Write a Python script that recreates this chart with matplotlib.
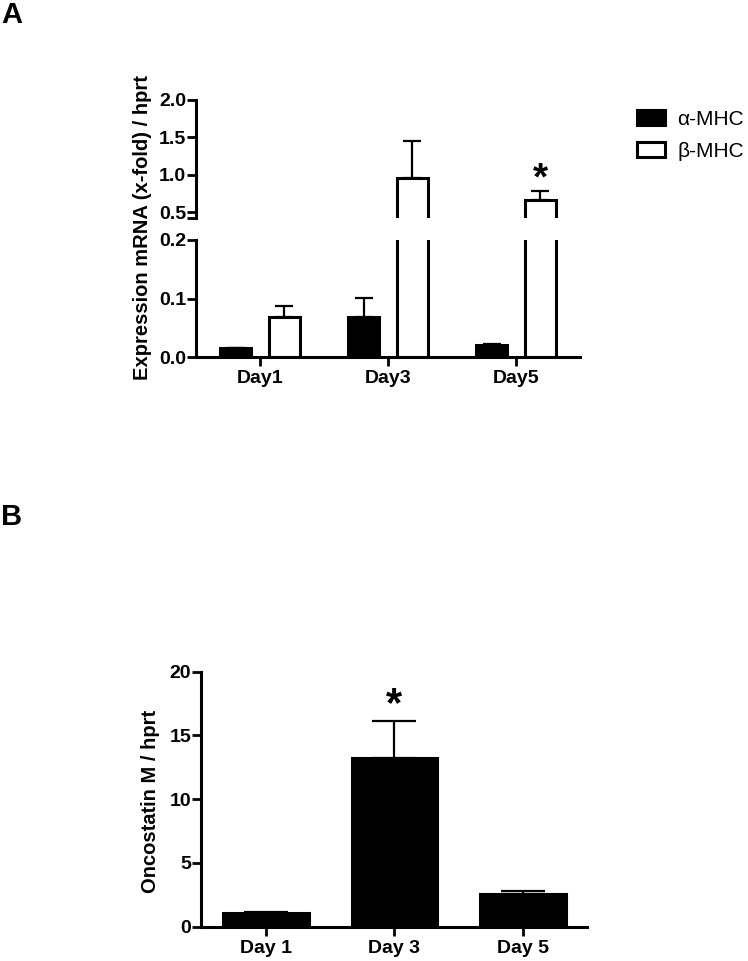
import matplotlib
matplotlib.use("Agg")
import matplotlib.pyplot as plt
import numpy as np
from matplotlib.patches import Patch

plt.rcParams['font.family'] = ['Liberation Sans', 'DejaVu Sans']

# ---- Panel A data ----
days_a = ["Day1", "Day3", "Day5"]
alpha_mhc = [0.015, 0.068, 0.020]
alpha_err = [0.001, 0.033, 0.003]
beta_mhc = [0.068, 0.95, 0.66]
beta_err = [0.019, 0.505, 0.12]
legend_labels = ["α-MHC", "β-MHC"]

# ---- Panel B data ----
days_b = ["Day 1", "Day 3", "Day 5"]
osm = [1.05, 13.25, 2.54]
osm_err = [0.08, 2.9, 0.26]

W, H = 748, 961
fig = plt.figure(figsize=(W / 100, H / 100), dpi=100)

LW = 2.2
TICKFS = 14
LABELFS = 14.5


def style_axes(ax, bottom=True):
    for s in ['top', 'right']:
        ax.spines[s].set_visible(False)
    ax.spines['left'].set_linewidth(LW)
    ax.spines['bottom'].set_linewidth(LW)
    if not bottom:
        ax.spines['bottom'].set_visible(False)
    ax.tick_params(axis='y', length=6.5, width=2, pad=0.5, labelsize=TICKFS)
    ax.tick_params(axis='x', length=6.5, width=2, pad=3, labelsize=TICKFS)
    for lab in ax.get_yticklabels() + ax.get_xticklabels():
        lab.set_fontweight('bold')


def fx(px):
    return px / W


def fy(py):
    return 1 - py / H


# ---- Panel A: broken axis ----
left, right = fx(196), fx(580)
ax_lo = fig.add_axes([left, fy(357), right - left, fy(240) - fy(357)])
ax_hi = fig.add_axes([left, fy(218), right - left, fy(100) - fy(218)])

x = np.arange(len(days_a))
bw = 0.245
off = 0.19
for ax in (ax_lo, ax_hi):
    ax.bar(x - off, alpha_mhc, width=bw, color='black', edgecolor='black', linewidth=LW, zorder=2)
    ax.bar(x + off, beta_mhc, width=bw, color='white', edgecolor='black', linewidth=LW, zorder=2)
    ax.errorbar(x - off, alpha_mhc, yerr=[np.zeros(3), alpha_err], fmt='none', ecolor='black',
                elinewidth=1.6, capsize=6.2, capthick=1.6, zorder=3)
    ax.errorbar(x + off, beta_mhc, yerr=[np.zeros(3), beta_err], fmt='none', ecolor='black',
                elinewidth=1.6, capsize=6.2, capthick=1.6, zorder=3)
    ax.set_xlim(-0.5, 2.5)

ax_lo.set_ylim(0, 0.2)
ax_lo.set_yticks([0.0, 0.1, 0.2])
ax_lo.set_yticklabels(["0.0", "0.1", "0.2"])
ax_lo.set_xticks(x)
ax_lo.set_xticklabels(days_a)
style_axes(ax_lo)

ax_hi.set_ylim(0.42, 2.0)
ax_hi.set_yticks([0.5, 1.0, 1.5, 2.0])
ax_hi.set_yticklabels(["0.5", "1.0", "1.5", "2.0"])
ax_hi.set_yticks([0.42], minor=True)
ax_hi.tick_params(axis='y', which='minor', length=6.5, width=2)
ax_hi.set_xticks([])
style_axes(ax_hi, bottom=False)

# significance star panel A
ax_hi.text(2 + off, 0.80, "*", ha='center', va='baseline', fontsize=28, fontweight='bold')

fig.text(fx(143), fy(228), "Expression mRNA (x-fold) / hprt", rotation=90, ha='center', va='center',
         fontsize=LABELFS, fontweight='bold')

# legend
handles = [Patch(facecolor='black', edgecolor='black', linewidth=LW),
           Patch(facecolor='white', edgecolor='black', linewidth=LW)]
fig.legend(handles, legend_labels, loc='upper left', bbox_to_anchor=(fx(637), fy(110)),
           frameon=False, fontsize=15, handlelength=1.35, handleheight=0.72,
           handletextpad=0.6, labelspacing=0.62, borderpad=0, borderaxespad=0)

fig.text(fx(1), fy(15), "A", fontsize=21, fontweight='bold', ha='left', va='center')

# ---- Panel B ----
axb = fig.add_axes([fx(201), fy(926.7), fx(586.7) - fx(201), fy(671.7) - fy(926.7)])
xb = np.arange(len(days_b))
axb.bar(xb, osm, width=0.67, color='black', edgecolor='black', linewidth=LW, zorder=2)
axb.errorbar(xb, osm, yerr=[np.zeros(3), osm_err], fmt='none', ecolor='black',
             elinewidth=1.6, capsize=15.8, capthick=1.6, zorder=3)
axb.set_xlim(-0.51, 2.5)
axb.set_ylim(0, 20)
axb.set_yticks([0, 5, 10, 15, 20])
axb.set_xticks(xb)
axb.set_xticklabels(days_b)
style_axes(axb)
axb.text(1, 16.5, "*", ha='center', va='baseline', fontsize=30, fontweight='bold')

fig.text(fx(150), fy(801), "Oncostatin M / hprt", rotation=90, ha='center', va='center',
         fontsize=LABELFS, fontweight='bold')
fig.text(fx(1), fy(517), "B", fontsize=21, fontweight='bold', ha='left', va='center')

fig.savefig("out.png", dpi=100)
